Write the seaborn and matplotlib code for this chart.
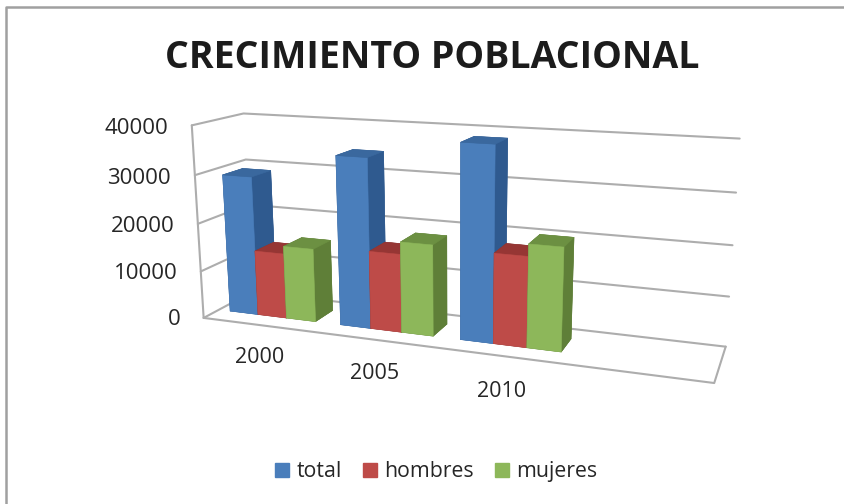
import numpy as np
import matplotlib
matplotlib.use("Agg")
import matplotlib.pyplot as plt
from matplotlib.patches import Patch
from matplotlib.lines import Line2D
import seaborn as sns

# values
years = ["2000", "2005", "2010"]
series_names = ["total", "hombres", "mujeres"]
total = [29200, 34700, 38700]
hombres = [13700, 16000, 18000]
mujeres = [15300, 18500, 20400]
z_ticks = [0, 10000, 20000, 30000, 40000]

sns.set_theme(style="white")
plt.rcParams["font.family"] = ["Open Sans", "DejaVu Sans"]

front = sns.color_palette(["#4A7EBB", "#BE4B48", "#8DB75A"])
side = sns.color_palette(["#2F5A8F", "#7F3432", "#5F7F38"])
top = sns.color_palette(["#3A689E", "#963634", "#6C9042"])
text_col = "#262626"
wall_col = "#ADADAD"

fig = plt.figure(figsize=(8.44, 5.04), dpi=100)
ax = fig.add_axes([0.03, 0.022, 1, 1], projection="3d", computed_zorder=False)
ax.set_proj_type("persp", focal_length=0.38)
ax.view_init(elev=14, azim=-70)
ax.set_box_aspect((4, 0.75, 1.55), zoom=1.115)
ax.set_xlim(0, 4)
ax.set_ylim(0, 1)
ax.set_zlim(0, 40000)
ax.set_axis_off()

# walls and gridlines
for z in z_ticks:
    ax.plot([0, 0, 4], [0, 1, 1], [z, z, z], color=wall_col, lw=1.5, zorder=1, clip_on=False)
ax.plot([0, 0], [0, 0], [0, 40000], color=wall_col, lw=1.5, zorder=1, clip_on=False)
ax.plot([0, 4, 4], [0, 0, 1], [0, 0, 0], color=wall_col, lw=1.5, zorder=1, clip_on=False)

# bars, painted left to right
bar_w = 0.26
order = 2
for i, year in enumerate(years):
    for j, vals in enumerate([total, hombres, mujeres]):
        # faces are -z, +z, -y, +y, -x, +x
        cols = [side[j], top[j], front[j], side[j], side[j], side[j]]
        ax.bar3d(i + 0.105 + j * bar_w, 0.3, 0, bar_w, 0.4, vals[i],
                 color=cols, edgecolor=cols, linewidth=0.4, shade=False, zorder=order, clip_on=False)
        order += 1
    ax.text(i * 0.97 + 0.63, -0.3, -4500, year, fontsize=15.5, color=text_col,
            ha="center", va="center", zorder=50)

for z in z_ticks:
    ax.text(-0.22, 0, z - 1000, str(z), fontsize=16, color=text_col,
            ha="right", va="center", zorder=50)

fig.text(0.512, 0.884, "CRECIMIENTO POBLACIONAL", fontsize=27, fontweight="bold",
         color="#1c1c1c", ha="center", va="center")

handles = [Patch(color=front[k]) for k in range(3)]
fig.legend(handles, series_names, loc="center", bbox_to_anchor=(0.517, 0.064), ncol=3,
           frameon=False, fontsize=15.3, handlelength=0.65, handleheight=0.65,
           handletextpad=0.35, columnspacing=1.0, labelcolor=text_col)

# only the top and left edges of the chart frame show in the reference
fig.add_artist(Line2D([0.007, 0.007, 1.0], [0.0, 0.987, 0.987], transform=fig.transFigure,
                      color="#a0a0a0", lw=1.8))

fig.savefig("out.png", dpi=100)
